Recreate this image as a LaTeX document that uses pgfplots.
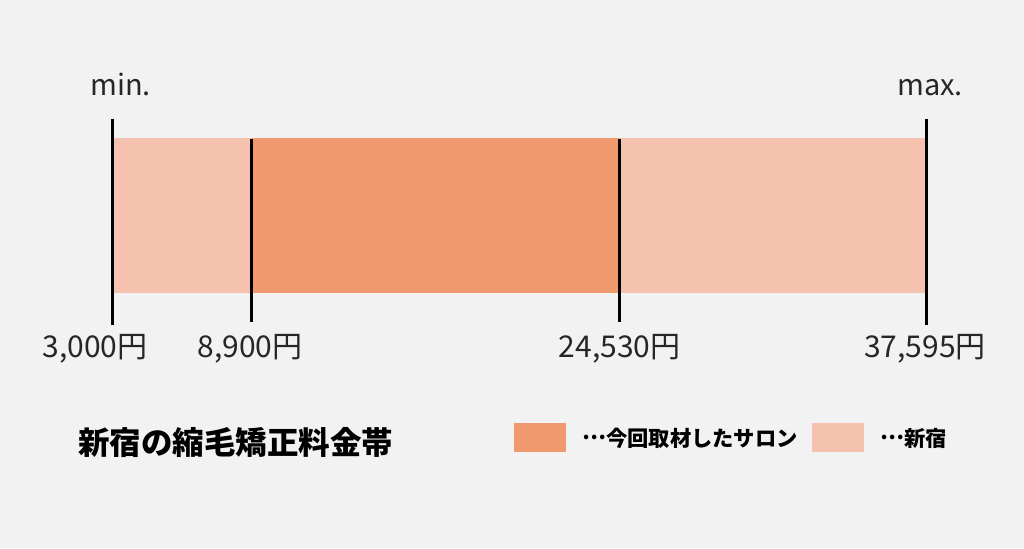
\documentclass[border=0pt]{standalone}
\usepackage{pgfplots}
\pgfplotsset{compat=1.18}
\usepackage{fontspec}
\setmainfont{Noto Sans CJK JP}
\newcommand{\jell}{\raisebox{0.32em}{…}}
\definecolor{bgc}{HTML}{F2F2F2}
\definecolor{dark}{HTML}{F0996F}
\definecolor{light}{HTML}{F5C2B0}
\begin{document}
\begin{tikzpicture}
\begin{axis}[
  scale only axis, width=1024pt, height=548pt,
  xmin=-1781, xmax=41739, ymin=0, ymax=548,
  hide axis, clip=false,
]
\fill[bgc] (rel axis cs:0,0) rectangle (rel axis cs:1,1);
% full Shinjuku range
\addplot[fill=light, draw=none] coordinates {(3000,255) (37595,255) (37595,410) (3000,410)} -- cycle;
% interviewed salon range
\addplot[fill=dark, draw=none] coordinates {(8900,255) (24530,255) (24530,410) (8900,410)} -- cycle;
% markers
\addplot[black, line width=3pt] coordinates {(3000,223) (3000,429)};
\addplot[black, line width=3pt] coordinates {(8900,226) (8900,409)};
\addplot[black, line width=3pt] coordinates {(24530,226) (24530,409)};
\addplot[black, line width=3pt] coordinates {(37595,223) (37595,429)};
% labels
\node[anchor=base, font=\fontsize{29}{34}\selectfont, text=black!85] at (rel axis cs:0.1177,0.8266) {min.};
\node[anchor=base, font=\fontsize{29}{34}\selectfont, text=black!85] at (rel axis cs:0.9082,0.8266) {max.};
\node[anchor=base, font=\fontsize{30}{36}\selectfont, text=black!85] at (rel axis cs:0.0928,0.3485) {3,000円};
\node[anchor=base, font=\fontsize{30}{36}\selectfont, text=black!85] at (rel axis cs:0.2441,0.3485) {8,900円};
\node[anchor=base, font=\fontsize{30}{36}\selectfont, text=black!85] at (rel axis cs:0.6050,0.3485) {24,530円};
\node[anchor=base, font=\fontsize{30}{36}\selectfont, text=black!85] at (rel axis cs:0.9033,0.3485) {37,595円};
% title
\node[anchor=west, inner sep=0pt, font=\fontsize{31.5}{36}\selectfont\bfseries] at (rel axis cs:0.0762,0.1934) {新宿の縮毛矯正料金帯};
% legend
\fill[dark] (rel axis cs:0.5020,0.1752) rectangle (rel axis cs:0.5527,0.2281);
\node[anchor=west, inner sep=0pt, font=\fontsize{21.3}{26}\selectfont\bfseries] at (rel axis cs:0.5684,0.2007) {\jell 今回取材したサロン};
\fill[light] (rel axis cs:0.7930,0.1752) rectangle (rel axis cs:0.8438,0.2281);
\node[anchor=west, inner sep=0pt, font=\fontsize{21.3}{26}\selectfont\bfseries] at (rel axis cs:0.8594,0.2007) {\jell 新宿};
\end{axis}
\end{tikzpicture}
\end{document}
